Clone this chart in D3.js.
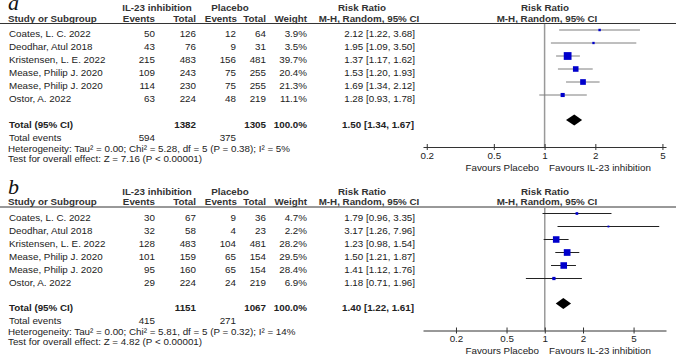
<!DOCTYPE html>
<html lang="en">
<head>
<meta charset="utf-8">
<script src="https://d3js.org/d3.v7.min.js"></script>
<style>
  body { margin: 0; background: #fff; }
  svg text { font-family: "Liberation Sans", Arial, sans-serif; font-size: 9.8px; fill: #222; }
  .bold { font-weight: bold; }
</style>
</head>
<body>
<script>
// ---- data ----
const studies = ["Coates, L. C. 2022", "Deodhar, Atul 2018", "Kristensen, L. E. 2022",
                 "Mease, Philip J. 2020", "Mease, Philip J. 2020", "Ostor, A. 2022"];

// panel a
const aEvIL = [50, 43, 215, 109, 114, 63];
const aTotIL = [126, 76, 483, 243, 230, 224];
const aEvPl = [12, 9, 156, 75, 75, 48];
const aTotPl = [64, 31, 481, 255, 255, 219];
const aWeight = [3.9, 3.5, 39.7, 20.4, 21.3, 11.1];
const aRR = [2.12, 1.95, 1.37, 1.53, 1.69, 1.28];
const aLo = [1.22, 1.09, 1.17, 1.20, 1.34, 0.93];
const aHi = [3.68, 3.50, 1.62, 1.93, 2.12, 1.78];
const aTotal = { nIL: 1382, nPl: 1305, evIL: 594, evPl: 375, rr: 1.50, lo: 1.34, hi: 1.67 };
const aHet = "Heterogeneity: Tau\u00B2 = 0.00; Chi\u00B2 = 5.28, df = 5 (P = 0.38); I\u00B2 = 5%";
const aTest = "Test for overall effect: Z = 7.16 (P < 0.00001)";
const aDomain = [0.19, 5.25];

// panel b
const bEvIL = [30, 32, 128, 101, 95, 29];
const bTotIL = [67, 58, 483, 159, 160, 224];
const bEvPl = [9, 4, 104, 65, 65, 24];
const bTotPl = [36, 23, 481, 154, 154, 219];
const bWeight = [4.7, 2.2, 28.2, 29.5, 28.4, 6.9];
const bRR = [1.79, 3.17, 1.23, 1.50, 1.41, 1.18];
const bLo = [0.96, 1.26, 0.98, 1.21, 1.12, 0.71];
const bHi = [3.35, 7.96, 1.54, 1.87, 1.76, 1.96];
const bTotal = { nIL: 1151, nPl: 1067, evIL: 415, evPl: 271, rr: 1.40, lo: 1.22, hi: 1.61 };
const bHet = "Heterogeneity: Tau\u00B2 = 0.00; Chi\u00B2 = 5.81, df = 5 (P = 0.32); I\u00B2 = 14%";
const bTest = "Test for overall effect: Z = 4.82 (P < 0.00001)";
const bDomain = [0.11, 9];

const tickVals = [0.2, 0.5, 1, 2, 5];

const W = 676, H = 356;
const svg = d3.select("body").append("svg").attr("width", W).attr("height", H);

const f2 = d3.format(".2f");
const ciText = (r, l, h) => `${f2(r)} [${f2(l)}, ${f2(h)}]`;

function panel(label, top, P) {
  const g = svg.append("g").attr("transform", `translate(0,${top})`);
  const yRow = d3.scaleLinear().domain([0, studies.length - 1]).range([30, 95]);
  const yTot = 120, yAxis = 147;
  const x = d3.scaleLog().domain(P.domain).range([423, 666]);
  const side = d3.scaleSqrt().domain([0, 40]).range([0, 7.8]);

  // panel letter
  g.append("text").attr("x", 8).attr("y", 10)
    .style("font-family", "'Liberation Serif', 'Times New Roman', serif")
    .style("font-style", "italic").style("font-size", "22px").style("fill", "#111")
    .text(label);

  // headers
  const hdr = (t, xx, yy, anchor) => g.append("text").attr("class", "bold")
    .attr("x", xx).attr("y", yy).attr("text-anchor", anchor).style("fill", "#333").text(t);
  hdr("IL-23 inhibition", 157, 11, "middle");
  hdr("Placebo", 230, 11, "middle");
  hdr("Risk Ratio", 362, 11, "middle");
  hdr("Risk Ratio", 545, 11, "middle");
  hdr("Study or Subgroup", 8, 21.5, "start");
  hdr("Events", 155, 21.5, "end");
  hdr("Total", 196, 21.5, "end");
  hdr("Events", 237, 21.5, "end");
  hdr("Total", 266, 21.5, "end");
  hdr("Weight", 307, 21.5, "end");
  hdr("M-H, Random, 95% CI", 369, 21.5, "middle");
  hdr("M-H, Random, 95% CI", 547, 21.5, "middle");
  g.append("line").attr("x1", 0).attr("x2", W).attr("y1", 23.5).attr("y2", 23.5)
    .attr("stroke", "#333").attr("stroke-width", 1);

  // study rows text
  const rows = g.selectAll("g.row").data(studies).enter().append("g").attr("class", "row")
    .attr("transform", (d, i) => `translate(0,${yRow(i) + 7})`);
  rows.append("text").attr("x", 9).text(d => d);
  rows.append("text").attr("x", 155).attr("text-anchor", "end").text((d, i) => P.evIL[i]);
  rows.append("text").attr("x", 196).attr("text-anchor", "end").text((d, i) => P.totIL[i]);
  rows.append("text").attr("x", 236).attr("text-anchor", "end").text((d, i) => P.evPl[i]);
  rows.append("text").attr("x", 266).attr("text-anchor", "end").text((d, i) => P.totPl[i]);
  rows.append("text").attr("x", 307).attr("text-anchor", "end").text((d, i) => P.weight[i].toFixed(1) + "%");
  rows.append("text").attr("x", 415).attr("text-anchor", "end")
    .text((d, i) => ciText(P.rr[i], P.lo[i], P.hi[i]));

  // total row
  const tb = yTot + 7.5;
  g.append("text").attr("class", "bold").attr("x", 9).attr("y", tb).text("Total (95% CI)");
  g.append("text").attr("class", "bold").attr("x", 196).attr("y", tb).attr("text-anchor", "end").text(P.total.nIL);
  g.append("text").attr("class", "bold").attr("x", 266).attr("y", tb).attr("text-anchor", "end").text(P.total.nPl);
  g.append("text").attr("class", "bold").attr("x", 307).attr("y", tb).attr("text-anchor", "end").text("100.0%");
  g.append("text").attr("class", "bold").attr("x", 414).attr("y", tb).attr("text-anchor", "end")
    .text(ciText(P.total.rr, P.total.lo, P.total.hi));

  g.append("text").attr("x", 9).attr("y", 140.5).text("Total events");
  g.append("text").attr("x", 155).attr("y", 140.5).attr("text-anchor", "end").text(P.total.evIL);
  g.append("text").attr("x", 236).attr("y", 140.5).attr("text-anchor", "end").text(P.total.evPl);
  g.append("text").attr("x", 8).attr("y", 151.5).text(P.het);
  g.append("text").attr("x", 8).attr("y", 161.5).text(P.test);

  // line of no effect
  g.append("line").attr("x1", x(1)).attr("x2", x(1)).attr("y1", 24).attr("y2", yAxis)
    .attr("stroke", "#999").attr("stroke-width", 1.5);

  // CI lines
  g.selectAll("line.ci").data(studies).enter().append("line").attr("class", "ci")
    .attr("x1", (d, i) => x(P.lo[i])).attr("x2", (d, i) => x(P.hi[i]))
    .attr("y1", (d, i) => yRow(i)).attr("y2", (d, i) => yRow(i))
    .attr("stroke", P.ciColor).attr("stroke-width", 1);

  // squares
  g.selectAll("rect.pt").data(studies).enter().append("rect").attr("class", "pt")
    .attr("x", (d, i) => x(P.rr[i]) - side(P.weight[i]) / 2)
    .attr("y", (d, i) => yRow(i) - side(P.weight[i]) / 2)
    .attr("width", (d, i) => side(P.weight[i]))
    .attr("height", (d, i) => side(P.weight[i]))
    .attr("fill", "#0000cc");

  // diamond
  const t = P.total;
  g.append("path")
    .attr("d", `M${x(t.lo)},${yTot} L${x(t.rr)},${yTot - 5.5} L${x(t.hi)},${yTot} L${x(t.rr)},${yTot + 5.5} Z`)
    .attr("fill", "#000");

  // axis
  const ax = g.append("g").attr("transform", `translate(0,${yAxis})`)
    .call(d3.axisBottom(x).tickValues(tickVals).tickFormat(d3.format("")).tickSize(3).tickSizeOuter(0));
  ax.select(".domain").attr("stroke", "#333");
  ax.selectAll(".tick line").attr("y1", -3).attr("y2", 3).attr("stroke", "#333");
  ax.selectAll(".tick text").attr("y", 5).attr("dy", "0.71em")
    .style("font-family", "'Liberation Sans', Arial, sans-serif").style("font-size", "9.8px").style("fill", "#222");

  g.append("text").attr("x", 539).attr("y", 170.5).attr("text-anchor", "end").text("Favours Placebo");
  g.append("text").attr("x", 549).attr("y", 170.5).text("Favours IL-23 inhibition");
}

panel("a", 0, {
  evIL: aEvIL, totIL: aTotIL, evPl: aEvPl, totPl: aTotPl, weight: aWeight,
  rr: aRR, lo: aLo, hi: aHi, total: aTotal, het: aHet, test: aTest,
  domain: aDomain, ciColor: "#7f7f7f"
});
panel("b", 183.5, {
  evIL: bEvIL, totIL: bTotIL, evPl: bEvPl, totPl: bTotPl, weight: bWeight,
  rr: bRR, lo: bLo, hi: bHi, total: bTotal, het: bHet, test: bTest,
  domain: bDomain, ciColor: "#222"
});
</script>
</body>
</html>
